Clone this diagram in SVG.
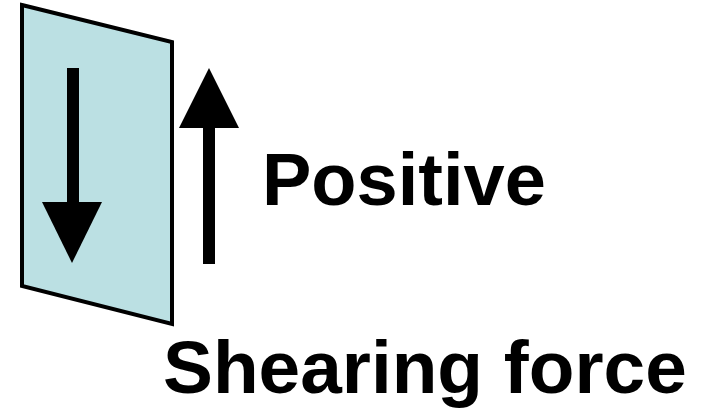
<svg xmlns="http://www.w3.org/2000/svg" width="702" height="411" viewBox="0 0 702 411">
<style>
.lbl{font-family:"Liberation Sans",Arial,sans-serif;font-weight:bold;fill:#000}
.plate{fill:#BBE0E3;stroke:#000;stroke-width:4;stroke-linejoin:miter}
.arr{fill:#000}
</style>
<rect width="702" height="411" fill="#fff"/>
<g id="plate">
<polygon class="plate" points="22,5 172,42 172,324 22,286"/>
</g>
<g id="connectors">
<g id="arrow-down">
<rect class="arr" x="67" y="68" width="12" height="136"/>
<polygon class="arr" points="42,202 102,202 72,263"/>
</g>
<g id="arrow-up">
<rect class="arr" x="203" y="126" width="12" height="138"/>
<polygon class="arr" points="179,128 239,128 209,68"/>
</g>
</g>
<g id="label-positive">
<text class="lbl" x="262" y="205" font-size="74">Positive</text>
</g>
<g id="label-shearing">
<text class="lbl" x="163" y="393" font-size="74.8">Shearing force</text>
</g>
</svg>
